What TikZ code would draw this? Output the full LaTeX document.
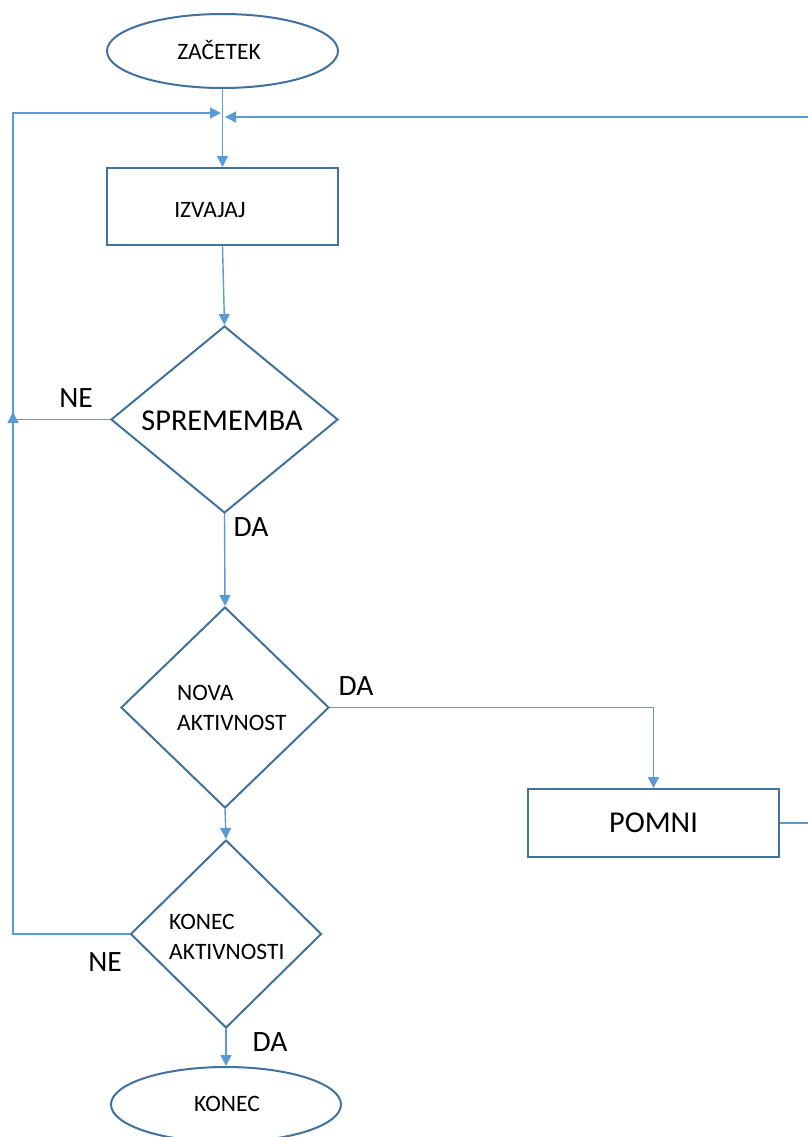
\documentclass[tikz,border=0pt]{standalone}
\usepackage{fontspec}
\setmainfont{Carlito}
\usetikzlibrary{shapes.geometric,arrows.meta}
\definecolor{nodeblue}{HTML}{41719C}
\definecolor{linkblue}{HTML}{5B9BD5}
\begin{document}
\begin{tikzpicture}[x=1pt,y=-1pt,
  shapeline/.style={draw=nodeblue, line width=2pt, fill=white, inner sep=0pt},
  boxnode/.style={shapeline, rectangle},
  ovalnode/.style={shapeline, ellipse},
  decnode/.style={shapeline, diamond},
  small/.style={font=\fontsize{23.5}{29.5}\selectfont, inner sep=0pt},
  big/.style={font=\fontsize{30.3}{35}\selectfont, inner sep=0pt},
  lbl/.style={font=\fontsize{29.5}{33}\selectfont, inner sep=0pt},
  link/.style={draw=linkblue, line width=1.4pt},
  arr/.style={link, -{Triangle[length=11pt,width=11pt]}}
]
\useasboundingbox (0,0) rectangle (808,1137);
\begin{scope}
\clip (0,0) rectangle (808,1137);
% nodes
\node[ovalnode, minimum width=231pt, minimum height=74pt] (start) at (222.5,51) {};
\node[small] (starttxt) at (219,50) {ZAČETEK};
\node[boxnode, minimum width=231pt, minimum height=77pt] (izv) at (222.5,206.5) {};
\node[small] (izvtxt) at (210,210) {IZVAJAJ};
\node[decnode, minimum width=227pt, minimum height=187pt] (d1) at (224.5,419.5) {};
\node[big] (d1txt) at (222,421) {SPREMEMBA};
\node[decnode, minimum width=208pt, minimum height=201pt] (d2) at (225,707.5) {};
\node[small, align=left, anchor=west] (d2txt) at (177,708) {NOVA\\AKTIVNOST};
\node[decnode, minimum width=191pt, minimum height=188pt] (d3) at (226,934) {};
\node[small, align=left, anchor=west] (d3txt) at (169,937) {KONEC\\AKTIVNOSTI};
\node[boxnode, minimum width=251pt, minimum height=68pt] (pomni) at (653.5,823) {};
\node[big] (pomnitxt) at (pomni) {POMNI};
\node[ovalnode, minimum width=230pt, minimum height=75pt] (end) at (226,1104.5) {};
\node[small] (endtxt) at (227,1104) {KONEC};
% labels
\node[lbl] (ne1) at (76,398) {NE};
\node[lbl] (da1) at (251,527) {DA};
\node[lbl] (da2) at (356,686) {DA};
\node[lbl] (ne2) at (105,962) {NE};
\node[lbl] (da3) at (270,1042) {DA};
% coordinates
\coordinate (jl) at (221,113);
\coordinate (jr) at (225,117);
\coordinate (tl) at (13,113);
\coordinate (lc) at (13,412);
\coordinate (rb) at (808,823);
\coordinate (rt) at (808,117);
% connectors
\draw[arr] (start.south) -- (izv.north);
\draw[arr] (izv.south) -- (d1.north);
\draw[arr] (d1.south) -- (d2.north);
\draw[arr] (d2.south) -- (d3.north);
\draw[arr] (d3.south) -- (end.north);
\draw[arr] (d2.east) -| (pomni.north);
\draw[link] (pomni.east) -- (rb);
\draw[arr] (rt) -- (jr);
\draw[arr] (d1.west) -| (tl) -- (jl);
\draw[arr] (d3.west) -| (lc);
\end{scope}
\end{tikzpicture}
\end{document}
